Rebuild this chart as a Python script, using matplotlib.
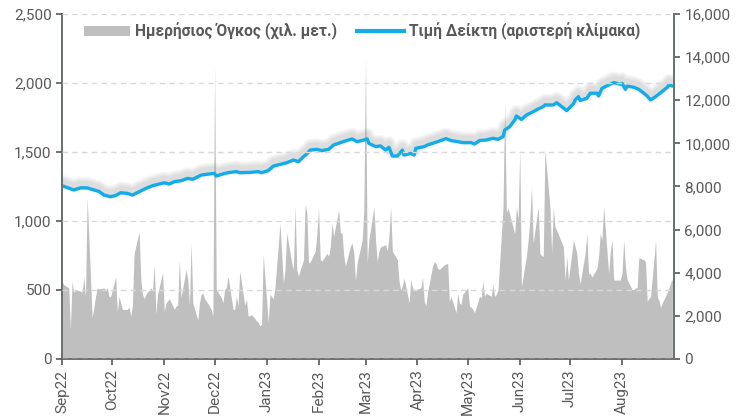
import matplotlib
matplotlib.use("Agg")
import matplotlib.pyplot as plt
import matplotlib.dates as mdates
import matplotlib.patheffects as pe
from matplotlib.patches import Patch
from matplotlib.lines import Line2D
from matplotlib.ticker import FuncFormatter, MultipleLocator
import pandas as pd

plt.rcParams['font.family'] = ['Roboto', 'DejaVu Sans']

# daily volume (thousand shares), one list per month, business days
vol_sep22 = [3600, 3450, 3300, 1400, 3600, 3100, 3200, 3150, 3100, 3800, 2900, 7500,
             1900, 2400, 2900, 3300, 3250, 3300, 3200, 3300, 2900, 2900]
vol_oct22 = [3800, 2200, 2900, 2600, 2300, 2300, 2400, 2000, 2500, 4900, 5900, 3700,
             3000, 2800, 3000, 3300, 3200, 4400, 2100, 3000, 4000]
vol_nov22 = [2200, 2600, 2700, 2800, 2300, 2450, 2500, 4600, 2850, 4150, 3700, 2500,
             5400, 2600, 1800, 2600, 3000, 3050, 2800, 2450, 2300, 2000]
vol_dec22 = [13600, 3230, 2850, 2600, 3230, 3300, 3850, 2300, 2300, 2920, 2460, 4080,
             2500, 2770, 2000, 2000, 2070, 1770, 1700, 1540, 1600, 4840]
vol_jan23 = [1700, 3000, 2900, 2800, 3300, 6300, 4900, 3500, 4150, 5850, 4460, 4150,
             7100, 4150, 3850, 4600, 7150, 6800, 4460, 4500, 5000, 5770]
vol_feb23 = [7000, 4600, 4540, 4900, 4770, 5200, 6300, 5700, 6900, 5850, 5850, 4800,
             4300, 5230, 5380, 4920, 3620, 4460, 5500, 6900]
vol_mar23 = [13870, 4460, 5500, 7050, 5500, 4520, 5000, 5200, 5300, 5000, 5700, 7050,
             5000, 4600, 3600, 3200, 3400, 3750, 2600, 3700, 3300, 3220, 3220]
vol_apr23 = [3300, 3800, 2700, 2450, 3100, 4300, 4500, 4450, 4200, 4150, 4370, 4400,
             4450, 2680, 2900, 2150, 3060, 2600, 2530, 3000]
vol_may23 = [3300, 2450, 2400, 2300, 2150, 2900, 2840, 3600, 2900, 3060, 2900, 3450,
             2900, 3000, 3200, 7000, 11870, 6800, 7000, 6700, 5800, 7050, 6500]
vol_jun23 = [9700, 3350, 4800, 5520, 6500, 8000, 5370, 7060, 4900, 4800, 4750, 9700,
             7060, 4900, 7000, 6140, 5980, 5400, 5200, 3660, 4750, 3660]
vol_jul23 = [5520, 5220, 4900, 3970, 3500, 4900, 5830, 3970, 3970, 3800, 4200, 4750,
             5830, 5500, 7060, 3970, 5000, 5520, 3660, 3660, 3660]
vol_aug23 = [4000, 5520, 4300, 3680, 3220, 3220, 3300, 3300, 4700, 4600, 4500, 2680,
             2800, 2900, 5500, 2900, 2700, 2400, 2600, 3100, 3300, 3550, 3700]

# index level (left scale)
idx_dates = ['2022-09-01', '2022-09-08', '2022-09-12', '2022-09-16', '2022-09-20', '2022-09-23',
             '2022-09-26', '2022-09-30', '2022-10-03', '2022-10-06', '2022-10-10', '2022-10-13',
             '2022-10-17', '2022-10-21', '2022-10-25', '2022-10-28', '2022-11-01', '2022-11-04',
             '2022-11-07', '2022-11-11', '2022-11-15', '2022-11-18', '2022-11-23', '2022-11-28',
             '2022-12-01', '2022-12-02', '2022-12-06', '2022-12-09', '2022-12-14', '2022-12-16',
             '2022-12-22', '2022-12-27', '2022-12-29', '2023-01-02', '2023-01-05', '2023-01-09',
             '2023-01-13', '2023-01-17', '2023-01-20', '2023-01-23', '2023-01-25', '2023-01-27',
             '2023-01-31', '2023-02-03', '2023-02-07', '2023-02-10', '2023-02-14', '2023-02-17',
             '2023-02-21', '2023-02-24', '2023-02-28', '2023-03-02', '2023-03-03', '2023-03-07',
             '2023-03-10', '2023-03-13', '2023-03-15', '2023-03-17', '2023-03-20', '2023-03-23',
             '2023-03-24', '2023-03-28', '2023-03-30', '2023-03-31', '2023-04-05', '2023-04-07',
             '2023-04-13', '2023-04-18', '2023-04-21', '2023-04-25', '2023-04-28', '2023-05-03',
             '2023-05-05', '2023-05-08', '2023-05-12', '2023-05-16', '2023-05-19', '2023-05-22',
             '2023-05-23', '2023-05-26', '2023-05-29', '2023-05-30', '2023-06-02', '2023-06-05',
             '2023-06-09', '2023-06-12', '2023-06-15', '2023-06-16', '2023-06-21', '2023-06-23',
             '2023-06-26', '2023-06-29', '2023-07-03', '2023-07-04', '2023-07-06', '2023-07-07',
             '2023-07-11', '2023-07-13', '2023-07-17', '2023-07-18', '2023-07-20', '2023-07-24',
             '2023-07-27', '2023-07-31', '2023-08-01', '2023-08-03', '2023-08-04', '2023-08-08',
             '2023-08-11', '2023-08-14', '2023-08-16', '2023-08-18', '2023-08-21', '2023-08-24',
             '2023-08-28', '2023-08-29', '2023-08-31']
idx_vals = [1256, 1225, 1240, 1240, 1225, 1215,
            1188, 1176, 1185, 1205, 1200, 1188,
            1212, 1236, 1256, 1265, 1277, 1268,
            1285, 1292, 1309, 1302, 1333, 1341,
            1345, 1326, 1341, 1350, 1358, 1350,
            1352, 1358, 1350, 1365, 1398, 1410,
            1422, 1442, 1430, 1466, 1486, 1514,
            1519, 1510, 1519, 1551, 1568, 1580,
            1595, 1575, 1587, 1595, 1563, 1539,
            1544, 1514, 1534, 1471, 1471, 1514,
            1478, 1490, 1478, 1527, 1539, 1551,
            1575, 1597, 1583, 1575, 1568, 1568,
            1558, 1583, 1587, 1599, 1592, 1611,
            1659, 1684, 1732, 1761, 1736, 1768,
            1792, 1812, 1829, 1841, 1841, 1857,
            1829, 1800, 1849, 1877, 1901, 1873,
            1889, 1926, 1926, 1906, 1961, 1986,
            2003, 1991, 1998, 1954, 1978, 1969,
            1954, 1926, 1906, 1877, 1901, 1930,
            1969, 1986, 1978]

month_starts = pd.date_range('2022-09-01', '2023-08-01', freq='MS')
vol_months = [vol_sep22, vol_oct22, vol_nov22, vol_dec22, vol_jan23, vol_feb23,
              vol_mar23, vol_apr23, vol_may23, vol_jun23, vol_jul23, vol_aug23]

vol_dates = []
vols = []
for m, v in zip(month_starts, vol_months):
    d = pd.bdate_range(m, m + pd.offsets.MonthEnd(0))
    vol_dates += list(d[:len(v)])
    vols += v

grey = '#BFBFBF'
blue = '#13ACE8'
txt = '#595959'

fig = plt.figure(figsize=(7.39, 4.19), dpi=100)
ax = fig.add_axes([0.0839, 0.1432, 0.8282, 0.8234])
ax2 = ax.twinx()

ax2.fill_between(vol_dates, vols, 0, color=grey, lw=0)
ax2.set_ylim(0, 16000)

ax.set_zorder(ax2.get_zorder() + 1)
ax.patch.set_visible(False)

# soft shadow above the line
shadow = [pe.SimpleLineShadow(offset=(0, 3), shadow_color='0.5', alpha=0.07, linewidth=w)
          for w in (10, 8, 6, 4)]
ax.plot(pd.to_datetime(idx_dates), idx_vals, color=blue, lw=2.4, solid_capstyle='round',
        path_effects=shadow + [pe.Normal()])
ax.set_ylim(0, 2500)
ax.set_xlim(pd.Timestamp('2022-09-01'), pd.Timestamp('2023-09-01'))

ax.yaxis.set_major_locator(MultipleLocator(500))
ax2.yaxis.set_major_locator(MultipleLocator(2000))
fmt = FuncFormatter(lambda v, _: f'{v:,.0f}')
ax.yaxis.set_major_formatter(fmt)
ax2.yaxis.set_major_formatter(fmt)

ax.grid(axis='y', color='#D9D9D9', linestyle=(0, (4, 3)), lw=1)
ax.set_axisbelow(False)

ax.set_xticks(list(month_starts))
ax.xaxis.set_major_formatter(mdates.DateFormatter('%b%y'))
for lab in ax.get_xticklabels():
    lab.set_rotation(90)

for a in (ax, ax2):
    a.tick_params(colors=txt, labelsize=11, length=4, width=1.2)
    for s in a.spines.values():
        s.set_color('#6d7373')
        s.set_linewidth(1.4)
    a.spines['top'].set_visible(False)

handles = [Patch(facecolor=grey, edgecolor='none'),
           Line2D([], [], color=blue, lw=3)]
labels = ['Ημερήσιος Όγκος (χιλ. μετ.)', 'Τιμή Δείκτη (αριστερή κλίμακα)']
leg = ax.legend(handles, labels, loc='upper center', bbox_to_anchor=(0.49, 1.015), ncol=2,
                frameon=False, handlelength=3.0, handleheight=0.6, handletextpad=0.3,
                columnspacing=1.3, prop={'size': 11.2, 'weight': 'bold'})
for t in leg.get_texts():
    t.set_color(txt)

fig.savefig('out.png', dpi=100)
